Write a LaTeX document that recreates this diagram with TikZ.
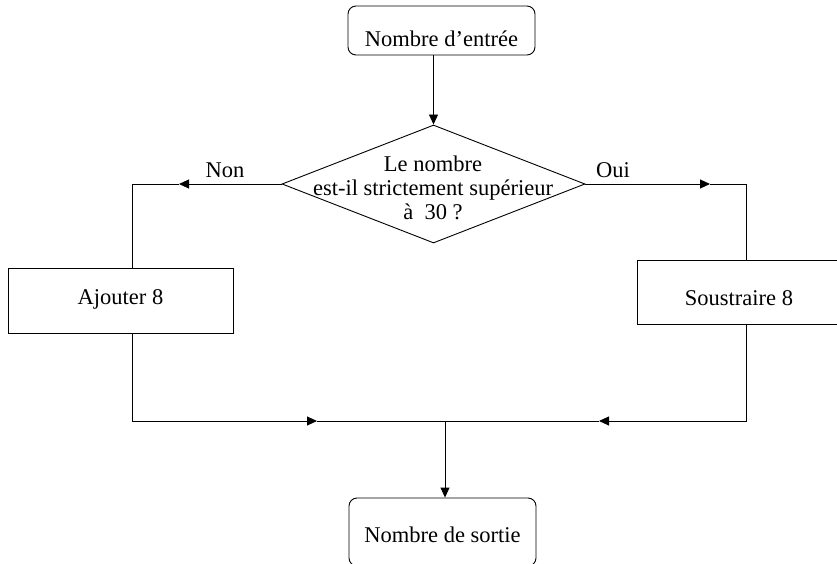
\documentclass[tikz,border=0pt]{standalone}
\usepackage{fontspec}
\setmainfont{Liberation Serif}
\usetikzlibrary{positioning,arrows.meta,shapes.geometric}
\begin{document}
\begin{tikzpicture}[
  x=1pt, y=-1pt,
  every node/.style={font=\fontsize{22.5}{24}\selectfont},
  term/.style={rectangle, draw, rounded corners=8pt, line width=0.9pt, minimum width=187pt, inner sep=0pt},
  box/.style={rectangle, draw, line width=0.9pt, inner sep=0pt},
  decision/.style={diamond, draw, line width=0.9pt, minimum width=303pt, minimum height=118pt, inner sep=0pt},
  line/.style={line width=0.9pt},
  arr/.style={line width=0.9pt, -{Triangle[length=10pt,width=9pt]}}
]
  \useasboundingbox (0,0) rectangle (837,564);
  \clip (0,0) rectangle (837,564);

  \node[term, text height=40.5pt, text depth=8.5pt] (entree) at (441.5,30.5) {Nombre d’entrée};
  \node[decision] (test) at (433.5,184) {};
  \node[align=center, inner sep=0pt] (testtxt) at (433,188) {Le nombre\\est-il strictement supérieur\\à\ \ 30 ?};
  \node[box, minimum width=225pt, text height=36pt, text depth=29pt] (ajout) at (120.5,300.5) {Ajouter 8};
  \node[box, minimum width=204pt, text height=45pt, text depth=19pt] (sous) at (739,292) {Soustraire 8};
  \node[term, text height=44pt, text depth=24pt] (sortie) at (442.5,532) {Nombre de sortie};

  % branch labels
  \node (non) at (225,170) {Non};
  \node (oui) at (613,170) {Oui};

  \coordinate (nonarr) at (179,184);
  \coordinate (nonturn) at (132,184);
  \coordinate (ouiarr) at (710,184);
  \coordinate (ouiturn) at (746,184);
  \coordinate (gauche) at (132,421);
  \coordinate (droite) at (746,421);
  \coordinate (garr) at (317,421);
  \coordinate (darr) at (599,421);
  \coordinate (jonction) at (445,421);

  \draw[arr] (entree.south -| test.north) -- (test.north);
  \draw[arr] (test.west) -- (nonarr);
  \draw[line] (nonarr) -- (nonturn) -- (nonturn |- ajout.north);
  \draw[arr] (test.east) -- (ouiarr);
  \draw[line] (ouiarr) -- (ouiturn) -- (ouiturn |- sous.north);

  % merge
  \draw[arr] (gauche |- ajout.south) -- (gauche) -- (garr);
  \draw[line] (garr) -- (darr);
  \draw[arr] (droite |- sous.south) -- (droite) -- (darr);
  \draw[arr] (jonction) -- (jonction |- sortie.north);
\end{tikzpicture}
\end{document}
